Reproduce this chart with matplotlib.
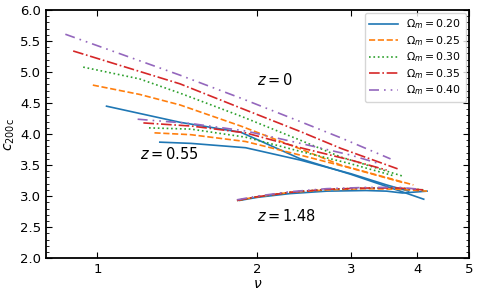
import matplotlib.pyplot as plt
from matplotlib.ticker import FixedLocator, FixedFormatter, MultipleLocator, NullLocator

omegas = [0.20, 0.25, 0.30, 0.35, 0.40]
colors = ['#1f77b4', '#ff7f0e', '#2ca02c', '#d62728', '#9467bd']
styles = ['-', '--', ':', '-.', (0, (6, 3, 1, 3, 1, 3))]

# z = 0
nu_z0 = [
    [1.04, 1.43, 1.86, 2.41, 3.0, 3.6, 4.11],
    [0.98, 1.2, 1.43, 1.86, 2.41, 2.87, 3.93],
    [0.94, 1.2, 1.43, 1.86, 2.41, 2.87, 3.76],
    [0.90, 1.43, 1.86, 2.41, 2.87, 3.67],
    [0.87, 1.43, 1.86, 2.41, 2.87, 3.56],
]
c_z0 = [
    [4.45, 4.19, 4.03, 3.60, 3.35, 3.12, 2.95],
    [4.79, 4.64, 4.47, 4.13, 3.76, 3.50, 3.18],
    [5.08, 4.89, 4.66, 4.29, 3.90, 3.63, 3.32],
    [5.34, 4.81, 4.42, 4.04, 3.77, 3.44],
    [5.61, 4.95, 4.58, 4.20, 3.94, 3.60],
]

# z = 0.55
nu_z055 = [
    [1.31, 1.5, 1.9, 2.41, 3.0, 3.5, 3.85],
    [1.28, 1.5, 1.9, 2.41, 3.0, 3.75],
    [1.25, 1.5, 1.9, 2.41, 3.0, 3.60],
    [1.22, 1.5, 1.9, 2.41, 3.0, 3.50],
    [1.19, 1.5, 1.9, 2.41, 3.0, 3.40],
]
c_z055 = [
    [3.87, 3.85, 3.78, 3.58, 3.36, 3.18, 3.08],
    [4.02, 3.99, 3.88, 3.66, 3.45, 3.22],
    [4.10, 4.08, 3.95, 3.72, 3.52, 3.33],
    [4.18, 4.13, 4.02, 3.78, 3.58, 3.42],
    [4.24, 4.17, 4.05, 3.85, 3.66, 3.52],
]

# z = 1.48
nu_z148 = [
    [1.85, 2.0, 2.3, 2.7, 3.2, 3.5, 3.75, 4.17],
    [1.83, 2.0, 2.3, 2.7, 3.2, 3.7, 4.17],
    [1.83, 2.0, 2.3, 2.7, 3.2, 3.7, 4.12],
    [1.83, 2.0, 2.3, 2.7, 3.2, 3.7, 4.10],
    [1.83, 2.0, 2.3, 2.7, 3.2, 3.7, 4.05],
]
c_z148 = [
    [2.93, 2.98, 3.04, 3.08, 3.09, 3.08, 3.05, 3.08],
    [2.93, 2.99, 3.06, 3.10, 3.12, 3.11, 3.08],
    [2.93, 2.99, 3.06, 3.11, 3.13, 3.13, 3.10],
    [2.93, 2.99, 3.06, 3.11, 3.13, 3.13, 3.10],
    [2.94, 3.00, 3.07, 3.12, 3.14, 3.14, 3.11],
]

fig = plt.figure(figsize=(4.79, 2.96), dpi=100)
ax = fig.add_axes([0.096, 0.128, 0.883, 0.838])

for i in range(5):
    ax.plot(nu_z0[i], c_z0[i], color=colors[i], ls=styles[i], lw=1.2,
            label=r'$\Omega_m = %.2f$' % omegas[i])
    ax.plot(nu_z055[i], c_z055[i], color=colors[i], ls=styles[i], lw=1.2)
    ax.plot(nu_z148[i], c_z148[i], color=colors[i], ls=styles[i], lw=1.2)

ax.text(2.0, 4.87, r'$z = 0$', fontsize=10.5, va='center')
ax.text(1.20, 3.68, r'$z = 0.55$', fontsize=10.5, va='center')
ax.text(2.0, 2.68, r'$z = 1.48$', fontsize=10.5, va='center')

ax.set_xscale('log')
ax.set_xlim(0.8, 5)
ax.set_ylim(2.0, 6.0)
ax.xaxis.set_major_locator(FixedLocator([1, 2, 3, 4, 5]))
ax.xaxis.set_major_formatter(FixedFormatter(['1', '2', '3', '4', '5']))
ax.xaxis.set_minor_locator(NullLocator())
ax.yaxis.set_major_locator(MultipleLocator(0.5))
ax.yaxis.set_minor_locator(MultipleLocator(0.1))
ax.tick_params(which='both', direction='in', top=True, right=True, labelsize=9.5)
ax.tick_params(which='major', length=4)
ax.tick_params(which='minor', length=2)
for s in ax.spines.values():
    s.set_linewidth(1.3)

ax.set_xlabel(r'$\nu$', fontsize=10, labelpad=1)
ax.set_ylabel(r'$c_{\rm 200c}$', fontsize=10, labelpad=2)
ax.legend(loc='upper right', fontsize=7.8, handlelength=2.6, labelspacing=0.25,
          borderaxespad=0.3, handletextpad=0.8)

fig.savefig('out.png', dpi=100)
